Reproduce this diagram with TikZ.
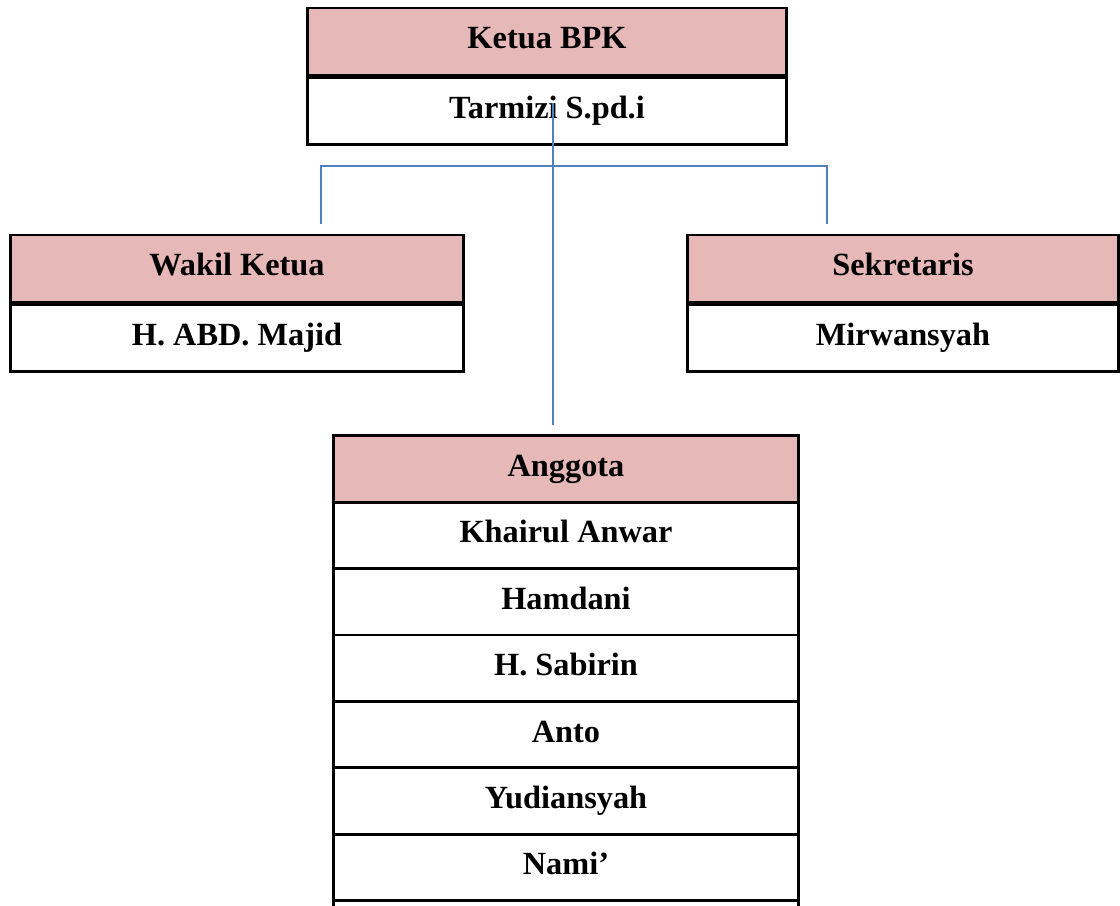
\documentclass[tikz,border=0pt]{standalone}
\usepackage{fontspec}
\setmainfont{Liberation Serif}
\usepackage{tikz}
\usetikzlibrary{positioning}
\definecolor{kepala}{RGB}{230,184,183}
\definecolor{garis}{RGB}{79,129,189}
\tikzset{
	kotak/.style={draw=black, line width=2.1pt, rectangle, inner sep=0pt,
		text height=15.2pt, text depth=4.6pt,
		font=\fontsize{23}{27}\selectfont\bfseries},
	judul/.style={kotak, fill=kepala, minimum height=1.675cm},
	isi/.style={kotak, fill=white, minimum height=1.66cm},
	hubung/.style={draw=garis, line width=1.1pt}
}

\begin{document}
\begin{tikzpicture}[x=0.025cm, y=-0.025cm]
	\useasboundingbox (0,0) rectangle (1120,906);
	\clip (0,0) rectangle (1120,906);

	% ketua
	\node[judul, minimum width=11.95cm] (ketua) at (547,41.5) {Ketua BPK};
	\node[isi, minimum width=11.95cm, below=0pt of ketua] (ketuanama) {Tarmizi S.pd.i};

	% wakil dan sekretaris
	\node[judul, minimum width=11.3cm] (wakil) at (237,268.5) {Wakil Ketua};
	\node[isi, minimum width=11.3cm, below=0pt of wakil] (wakilnama) {H. ABD. Majid};
	\node[judul, minimum width=10.75cm] (sekretaris) at (903,268.5) {Sekretaris};
	\node[isi, minimum width=10.75cm, below=0pt of sekretaris] (sekretarisnama) {Mirwansyah};

	% anggota
	\node[judul, minimum width=11.6cm] (anggota) at (566,469) {Anggota};
	\foreach \nama [count=\i] in {Khairul Anwar, Hamdani, H. Sabirin, Anto, Yudiansyah, Nami’, {}}
		\node[isi, minimum width=11.6cm] (anggota-\i) at (566,469+66.4*\i) {\nama};

	% garis
	\coordinate (pusat) at (553,103);
	\coordinate (simpang) at (553,166);
	\coordinate (kiri) at (321,224);
	\coordinate (kanan) at (827,224);
	\coordinate (bawah) at (553,425);
	\draw[hubung] (kiri) |- (simpang) -| (kanan);
	\draw[hubung] (pusat) -- (bawah);
\end{tikzpicture}
\end{document}
